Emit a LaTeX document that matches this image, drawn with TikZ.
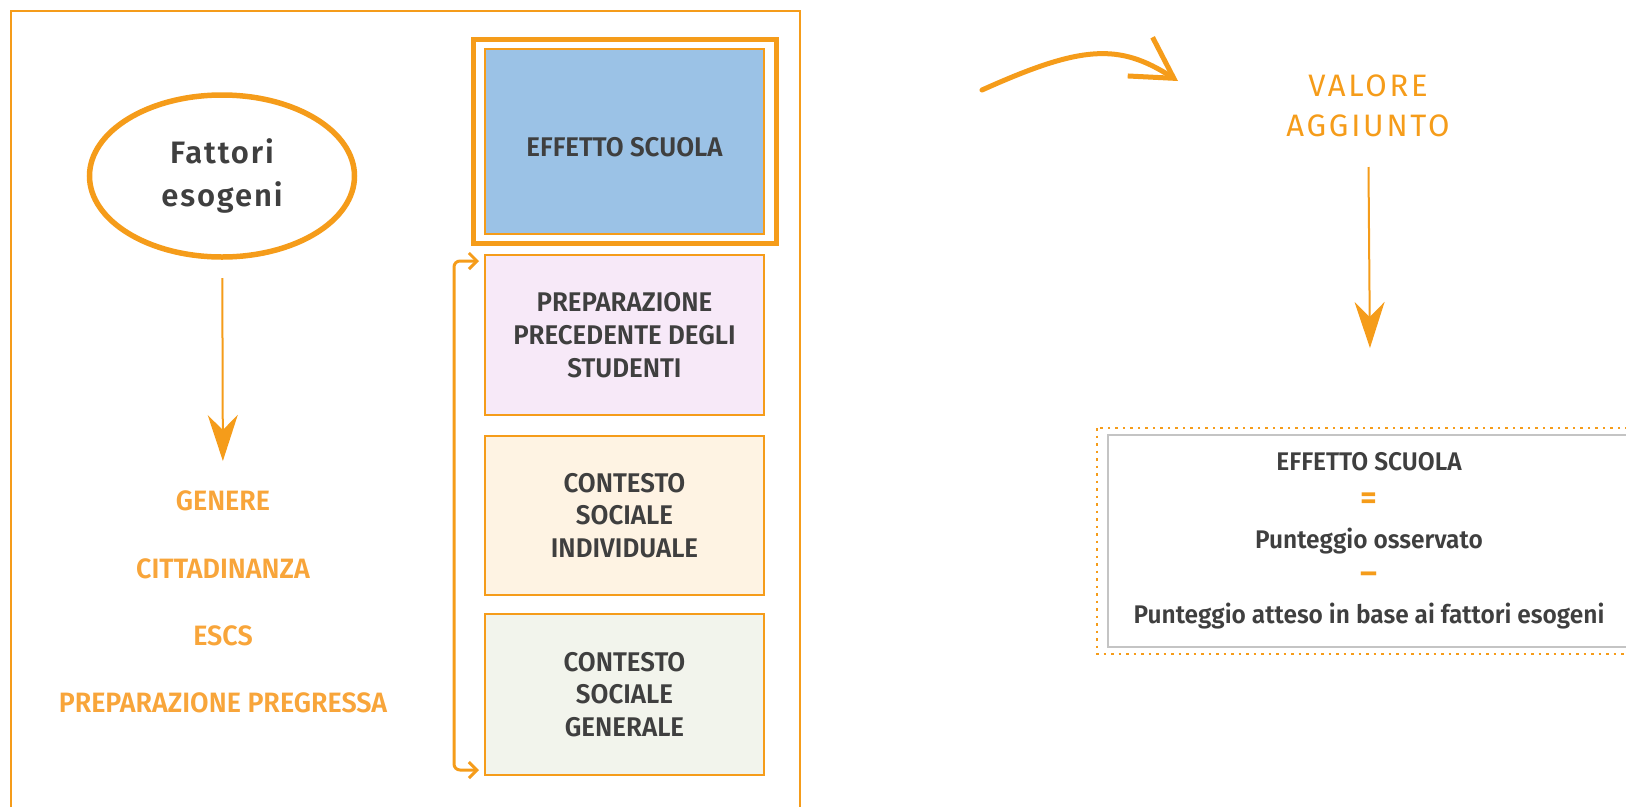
\documentclass[tikz,border=0pt]{standalone}
\usepackage{fontspec}
\setmainfont{Fira Sans}
\newfontfamily\condfont{Fira Sans SemiBold}[FakeStretch=0.96]
\newfontfamily\ovalfont{Fira Sans SemiBold}[LetterSpace=6]
\newfontfamily\lightfont{Fira Sans}[LetterSpace=9]
\usetikzlibrary{arrows.meta,shapes.geometric}
\definecolor{arancio}{HTML}{F59C1A}
\definecolor{chiaro}{HTML}{F8A53A}
\definecolor{testo}{HTML}{3F3F3F}
\definecolor{azzurro}{HTML}{9BC2E6}
\definecolor{rosa}{HTML}{F7E9F8}
\definecolor{crema}{HTML}{FEF3E3}
\definecolor{salvia}{HTML}{F2F4EC}
\definecolor{grigio}{HTML}{C4C4C4}
\begin{document}
\begin{tikzpicture}[x=1pt,y=-1pt,
    box/.style={draw=arancio,line width=2pt,minimum width=279pt,text=testo,align=center,
      font=\condfont\fontsize{27}{32.7}\selectfont},
    fattore/.style={text=chiaro,font=\condfont\fontsize{28}{30}\selectfont},
    riga/.style={text=testo,anchor=base,font=\condfont\fontsize{25.5}{28}\selectfont},
    segno/.style={text=arancio,font=\condfont\fontsize{34}{34}\selectfont},
    bigarrow/.style={draw=arancio,line width=2pt,-{Stealth[length=46pt,width=30pt,inset=15pt]}}]
  \useasboundingbox (0,0) rectangle (1626,807);
  \draw[arancio,line width=2pt] (11,807) -- (11,11) -- (800,11) -- (800,807);

  \node[draw=arancio,line width=5.5pt,ellipse,minimum width=265pt,minimum height=162pt,
    inner sep=0pt,align=center,text=testo,font=\ovalfont\fontsize{31}{43}\selectfont]
    (fattori) at (222,176) {Fattori\\esogeni};
  \node[fattore] (genere) at (223,501) {GENERE};
  \node[fattore] (cittadinanza) at (223,569) {CITTADINANZA};
  \node[fattore] (escs) at (223,636) {ESCS};
  \node[fattore] (pregressa) at (223,703) {PREPARAZIONE PREGRESSA};

  \node[draw=arancio,line width=5pt,minimum width=303pt,minimum height=204pt] (cornice) at (624.5,141) {};
  \node[box,fill=azzurro,minimum height=185pt,text height=31pt] (effetto) at (624.5,141.5) {EFFETTO SCUOLA};
  \node[box,fill=rosa,minimum height=160pt] (preparazione) at (624.5,335) {PREPARAZIONE\\PRECEDENTE DEGLI\\STUDENTI};
  \node[box,fill=crema,minimum height=159pt] (individuale) at (624.5,515.5) {CONTESTO\\SOCIALE\\INDIVIDUALE};
  \node[box,fill=salvia,minimum height=161pt] (generale) at (624.5,694.5) {CONTESTO\\SOCIALE\\GENERALE};

  \node[text=arancio,align=center,font=\lightfont\fontsize{31}{40}\selectfont]
    (valore) at (1368,106) {VALORE\\AGGIUNTO};
  \coordinate (curvastart) at (982,90);
  \coordinate (curvaend) at (1178,81);

  \draw[arancio,dotted,line width=2.5pt,dash pattern=on 2.5pt off 5pt]
    (1097,428) rectangle (1650,654);
  \node[draw=grigio,line width=1.5pt,minimum width=527pt,minimum height=212pt] (formula) at (1371.5,541) {};
  \node[riga] (effettoriga) at (1369,470) {EFFETTO SCUOLA};
  \node[segno] (uguale) at (1369,501) {=};
  \node[riga] (osservato) at (1369,548) {Punteggio osservato};
  \node[segno] (meno) at (1369,578) {–};
  \node[riga] (atteso) at (1369,623) {Punteggio atteso in base ai fattori esogeni};

  \begin{scope}[arancio]
    \draw[bigarrow,shorten <=102pt,shorten >=40pt] (fattori.center) -- (genere.center);
    \draw[bigarrow,shorten <=61pt,shorten >=193pt] (valore.center) -- (formula.center);
    \draw[line width=3pt,rounded corners=6pt,shorten <=5pt,shorten >=5pt,
      {Straight Barb[length=8pt,width=16pt]}-{Straight Barb[length=8pt,width=16pt]}]
      ([yshift=-7pt]preparazione.north west) -- ++(-30,0) |- ([yshift=6pt]generale.south west);
    \draw[line width=5pt,line cap=round,-{Straight Barb[length=40pt,width=46pt]}]
      (curvastart) .. controls (1082,45) and (1119,43) .. (curvaend);
  \end{scope}
\end{tikzpicture}
\end{document}
